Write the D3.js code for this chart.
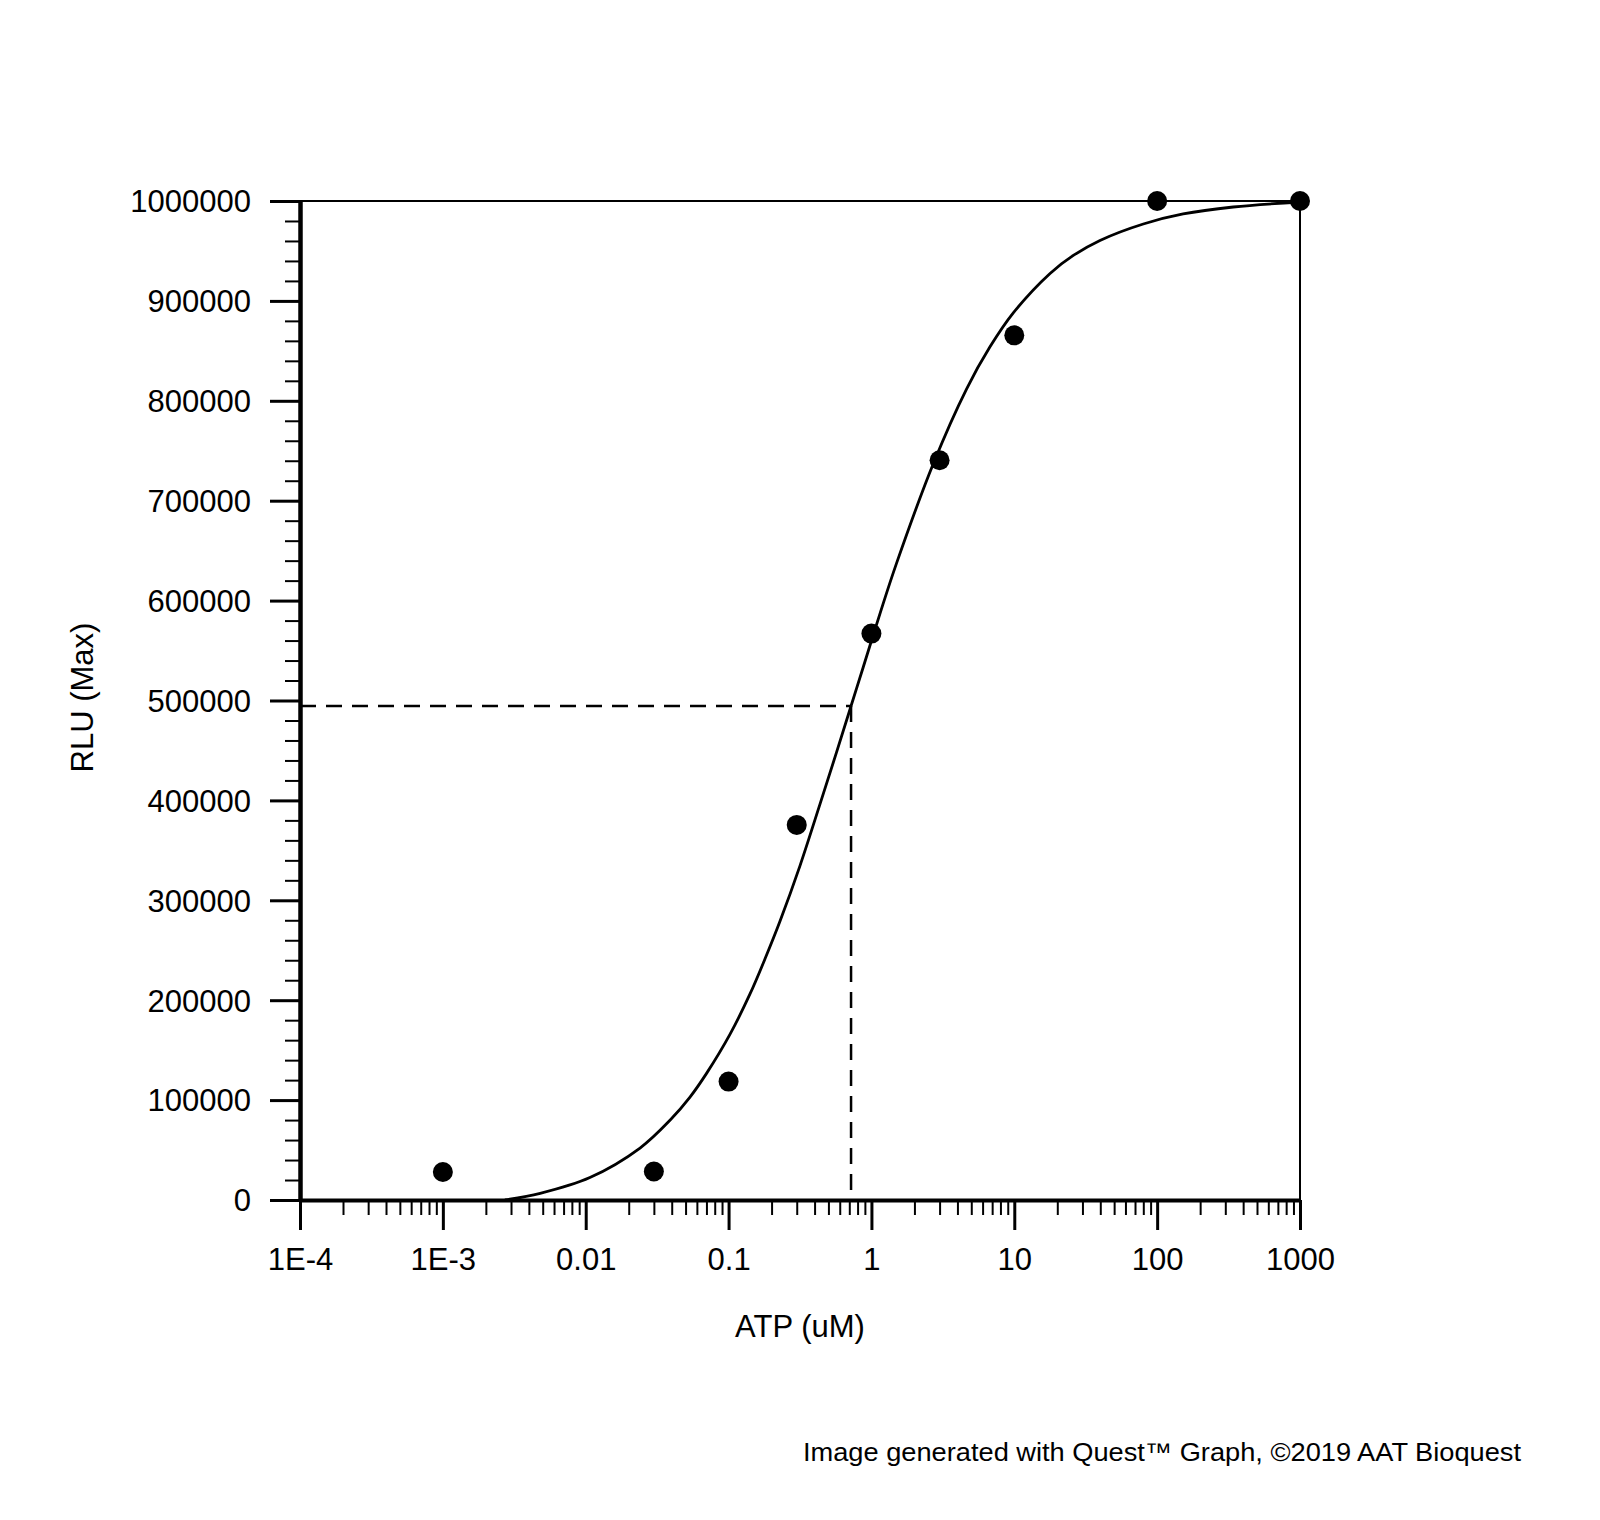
<!DOCTYPE html>
<html>
<head>
<meta charset="utf-8">
<script src="https://cdn.jsdelivr.net/npm/d3@7"></script>
<style>
  html, body { margin: 0; padding: 0; background: #fff; }
  svg { display: block; }
  text { font-family: "Liberation Sans", Arial, Helvetica, sans-serif; fill: #000; }
</style>
</head>
<body>
<svg id="chart" width="1600" height="1520"></svg>
<script>
// ---- Data ----
const concentrations = [0.001, 0.03, 0.1, 0.3, 1, 3, 10, 100, 1000];
const rluValues = [28000, 28500, 118500, 375500, 567000, 740500, 865500, 1000000, 1000000];

// fitted curve (ATP uM, RLU)
const fitX = [0.00272, 0.0048, 0.0107, 0.024, 0.0389, 0.0537, 0.0703, 0.102, 0.141, 0.18, 0.229, 0.316, 0.437, 0.571, 0.72, 0.877, 1.148, 1.5, 2.71, 4.64, 6.76, 9.84, 17.8, 25.9, 39.8, 80, 152, 341, 1000];
const fitY = [0, 6700, 22500, 52000, 79800, 103000, 127000, 165500, 206000, 241500, 279000, 334500, 396500, 448500, 494500, 533500, 587000, 637500, 737000, 812000, 854000, 888000, 927500, 945500, 960500, 977000, 987000, 994000, 999000];

const ec50 = 0.72;
const halfMaxRLU = 494500;

const xTickValues = [1e-4, 1e-3, 0.01, 0.1, 1, 10, 100, 1000];
const xTickLabels = ["1E-4", "1E-3", "0.01", "0.1", "1", "10", "100", "1000"];
const yTickValues = [0, 100000, 200000, 300000, 400000, 500000, 600000, 700000, 800000, 900000, 1000000];
const yTickLabels = ["0", "100000", "200000", "300000", "400000", "500000", "600000", "700000", "800000", "900000", "1000000"];

const xTitle = "ATP (uM)";
const yTitle = "RLU (Max)";
const footer = "Image generated with Quest\u2122 Graph, \u00A92019 AAT Bioquest";

// ---- Layout ----
const svg = d3.select("#chart");
svg.append("rect").attr("width", 1600).attr("height", 1520).attr("fill", "#fff");

const pL = 300, pR = 1300, pT = 201, pB = 1200;
const x = d3.scaleLog().domain([1e-4, 1000]).range([pL, pR]);
const y = d3.scaleLinear().domain([0, 1000000]).range([pB, pT]);

// minor tick values
const xMinor = [];
for (let e = -4; e < 3; e++) for (let m = 2; m <= 9; m++) xMinor.push(m * Math.pow(10, e));
const yMinor = d3.range(0, 1000001, 20000).filter(v => v % 100000 !== 0);

// frame (top & right, thin)
svg.append("line").attr("x1", pL).attr("x2", pR).attr("y1", y(1000000)).attr("y2", y(1000000))
  .attr("stroke", "#000").attr("stroke-width", 2);
svg.append("line").attr("x1", x(1000)).attr("x2", x(1000)).attr("y1", pT).attr("y2", pB)
  .attr("stroke", "#000").attr("stroke-width", 2);

// X minor
const gxm = svg.append("g").attr("transform", `translate(0,${pB})`)
  .call(d3.axisBottom(x).tickValues(xMinor).tickSize(15).tickFormat(""));
gxm.select(".domain").remove();
gxm.selectAll(".tick line").attr("stroke", "#000").attr("stroke-width", 2);

// X major
const gx = svg.append("g").attr("transform", `translate(0,${pB})`)
  .call(d3.axisBottom(x).tickValues(xTickValues).tickSize(30).tickSizeOuter(0).tickPadding(18)
    .tickFormat((d, i) => xTickLabels[i]));
gx.select(".domain").attr("stroke", "#000").attr("stroke-width", 4);
gx.selectAll(".tick line").attr("stroke", "#000").attr("stroke-width", 3);
gx.selectAll(".tick text").attr("font-size", 31).attr("fill", "#000");

// Y minor
const gym = svg.append("g").attr("transform", `translate(${pL},0)`)
  .call(d3.axisLeft(y).tickValues(yMinor).tickSize(15).tickFormat(""));
gym.select(".domain").remove();
gym.selectAll(".tick line").attr("stroke", "#000").attr("stroke-width", 2);

// Y major
const gy = svg.append("g").attr("transform", `translate(${pL},0)`)
  .call(d3.axisLeft(y).tickValues(yTickValues).tickSize(30).tickSizeOuter(0).tickPadding(19)
    .tickFormat((d, i) => yTickLabels[i]));
gy.select(".domain").attr("stroke", "#000").attr("stroke-width", 4.5);
gy.selectAll(".tick line").attr("stroke", "#000").attr("stroke-width", 3);
gy.selectAll(".tick text").attr("font-size", 31).attr("fill", "#000").attr("dy", "0.35em");

// dashed EC50 guide lines
svg.append("line").attr("x1", x(1e-4)).attr("x2", x(ec50)).attr("y1", y(halfMaxRLU)).attr("y2", y(halfMaxRLU))
  .attr("stroke", "#000").attr("stroke-width", 2.5).attr("stroke-dasharray", "16,10");
svg.append("line").attr("x1", x(ec50)).attr("x2", x(ec50)).attr("y1", y(halfMaxRLU)).attr("y2", y(0))
  .attr("stroke", "#000").attr("stroke-width", 2.5).attr("stroke-dasharray", "16,10");

// fitted curve
const line = d3.line().x(d => x(d[0])).y(d => y(d[1])).curve(d3.curveCatmullRom.alpha(0.5));
svg.append("path").datum(d3.zip(fitX, fitY)).attr("d", line)
  .attr("fill", "none").attr("stroke", "#000").attr("stroke-width", 2.8);

// data points
svg.append("g").selectAll("circle").data(d3.zip(concentrations, rluValues)).join("circle")
  .attr("cx", d => x(d[0])).attr("cy", d => y(d[1])).attr("r", 10).attr("fill", "#000");

// axis titles
svg.append("text").attr("x", (pL + pR) / 2).attr("y", 1337).attr("text-anchor", "middle")
  .attr("font-size", 31).text(xTitle);
svg.append("text").attr("transform", `translate(93,${(pT + pB) / 2 - 3}) rotate(-90)`)
  .attr("text-anchor", "middle").attr("font-size", 31).text(yTitle);

// footer
svg.append("text").attr("x", 803).attr("y", 1461).attr("font-size", 25.5)
  .attr("textLength", 718).attr("lengthAdjust", "spacingAndGlyphs").text(footer);
</script>
</body>
</html>
